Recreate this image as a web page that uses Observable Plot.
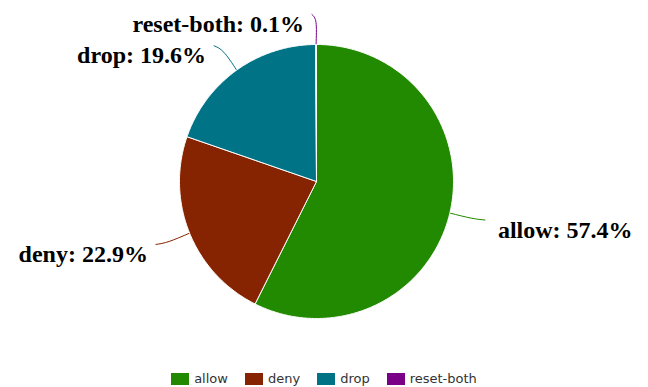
<!DOCTYPE html>
<html><head><meta charset="utf-8">
<script src="https://cdn.jsdelivr.net/npm/d3@7"></script>
<script src="https://cdn.jsdelivr.net/npm/@observablehq/plot@0.6"></script>
<style>
body{margin:0;background:#fff;overflow:hidden;}
#chart{height:360px;}
#legend{display:flex;justify-content:center;align-items:center;gap:17px;font:13px "DejaVu Sans",sans-serif;color:#333;height:27px;margin-top:5px;padding-left:0px;}
#legend .it{display:flex;align-items:center;}
#legend .sw{width:18px;height:12px;margin-right:5px;}
</style></head><body>
<div id="chart"></div>
<div id="legend"></div>
<script>
const categories = ["allow", "deny", "drop", "reset-both"];
const shares = [57.4, 22.9, 19.6, 0.1];
const colors = ["#218a00", "#862300", "#007386", "#7a0088"];

const W = 648, H = 360, cx = 316, cy = 181, R = 137;
const data = categories.map((c, i) => ({category: c, value: shares[i], color: colors[i]}));
const arcs = d3.pie().sort(null).value(d => d.value)(data);

const polys = [], leaders = [], labels = [];
arcs.forEach((a, i) => {
  const n = Math.max(3, Math.ceil((a.endAngle - a.startAngle) / 0.01));
  polys.push({category: a.data.category, px: cx, py: cy, k: 0});
  for (let j = 0; j <= n; j++) {
    const t = a.startAngle + (a.endAngle - a.startAngle) * j / n;
    polys.push({category: a.data.category, px: cx + R * Math.sin(t), py: cy - R * Math.cos(t), k: j + 1});
  }
  polys.push({category: a.data.category, px: cx, py: cy, k: n + 2});
  const m = (a.startAngle + a.endAngle) / 2;
  const s = Math.sin(m), c = -Math.cos(m);
  const side = s >= 0 && m < Math.PI * 1.99 ? 1 : -1;
  const p0 = [cx + R * s, cy + R * c];
  const p1 = [cx + (R + 22) * s, cy + (R + 22) * c];
  const p2 = [p1[0] + side * (4 + 10 * Math.abs(s)), p1[1] + 8 * c];
  [p0, p1, p2].forEach((p, k) => leaders.push({category: a.data.category, px: p[0], py: p[1], k}));
  labels.push({category: a.data.category, text: `${a.data.category}: ${a.data.value.toFixed(1)}%`,
    px: p2[0] + side * (side > 0 ? 13 : 8), py: p2[1] + 10, side});
});

const colorScale = {domain: categories, range: colors};
const chart = Plot.plot({
  width: W, height: H,
  margin: 0,
  x: {domain: [0, W], range: [0, W], axis: null},
  y: {domain: [0, H], range: [0, H], axis: null},
  color: colorScale,
  style: {background: "#fff", overflow: "visible"},
  marks: [
    Plot.line(leaders, {x: "px", y: "py", z: "category", stroke: "category", strokeWidth: 1, curve: "natural"}),
    Plot.line(polys, {x: "px", y: "py", z: "category", fill: "category", stroke: "#fff", strokeWidth: 1, strokeLinejoin: "round"}),
    Plot.text(labels.filter(d => d.side > 0), {x: "px", y: "py", text: "text", textAnchor: "start",
      fontSize: 24, fontWeight: "bold", fontFamily: "Liberation Serif, Times New Roman, serif", fill: "#000"}),
    Plot.text(labels.filter(d => d.side < 0), {x: "px", y: "py", text: "text", textAnchor: "end",
      fontSize: 24, fontWeight: "bold", fontFamily: "Liberation Serif, Times New Roman, serif", fill: "#000"})
  ]
});
document.getElementById("chart").appendChild(chart);

const leg = document.getElementById("legend");
categories.forEach((c, i) => {
  const it = document.createElement("div"); it.className = "it";
  const sw = document.createElement("div"); sw.className = "sw"; sw.style.background = colors[i];
  const tx = document.createElement("span"); tx.textContent = c;
  it.appendChild(sw); it.appendChild(tx); leg.appendChild(it);
});
</script>
</body></html>
